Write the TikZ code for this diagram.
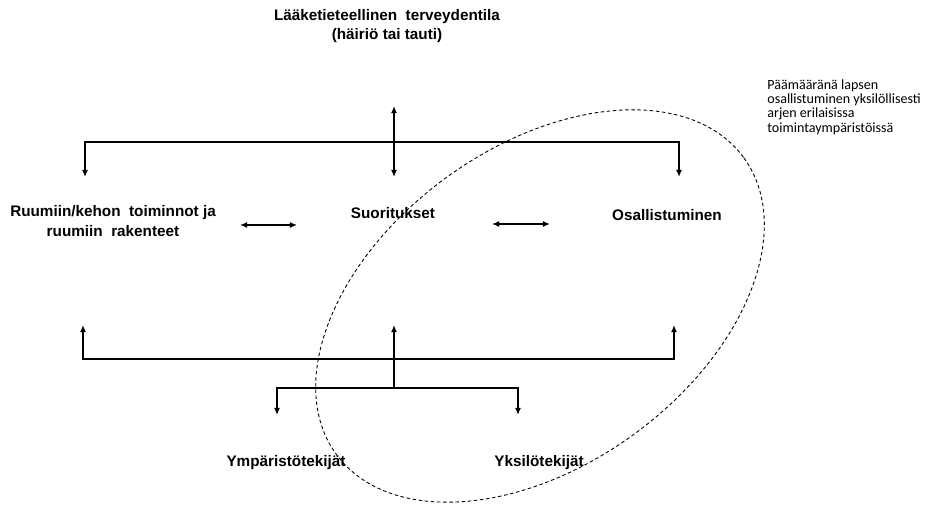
\documentclass[tikz,border=0pt]{standalone}
\usepackage{fontspec}
\setmainfont{Liberation Sans}
\newfontfamily\notefont{Carlito}
\usetikzlibrary{arrows.meta}

\begin{document}
\begin{tikzpicture}[x=0.02cm, y=-0.02cm,
    lbl/.style={font=\bfseries\fontsize{8.7}{11}\selectfont, align=center, inner sep=0pt},
    link/.style={line width=0.9pt},
    >={Latex[length=4pt,width=3.4pt]}]
\useasboundingbox (0,0) rectangle (925,506);

% Nodes
\node (title) [lbl] at (387,26) {Lääketieteellinen\ \ terveydentila\\(häiriö tai tauti)};
\node (body) [lbl] at (113,221) {Ruumiin/kehon\ \ toiminnot ja\\ruumiin\ \ rakenteet};
\node (act) [lbl] at (393,213) {Suoritukset};
\node (part) [lbl] at (667,215) {Osallistuminen};
\node (env) [lbl] at (286,463) {Ympäristötekijät};
\node (pers) [lbl] at (539,463) {Yksilötekijät};
\node (goal) [font=\notefont\fontsize{8}{8.2}\selectfont, align=left, inner sep=0pt, anchor=north west] at (767,79) {Päämääränä lapsen\\osallistuminen yksilöllisesti\\arjen erilaisissa\\toimintaympäristöissä};

% Coordinates
\coordinate (topin) at (394,106);
\coordinate (actin) at (394,177);
\coordinate (bodyin) at (85,177);
\coordinate (partin) at (679,177);
\coordinate (tl) at (85,142);
\coordinate (tr) at (679,142);
\coordinate (bodyout) at (83,325);
\coordinate (actout) at (394,325);
\coordinate (partout) at (674,325);
\coordinate (bl) at (83,359);
\coordinate (br) at (674,359);
\coordinate (mid) at (394,388);
\coordinate (el) at (277,388);
\coordinate (er) at (518,388);
\coordinate (envin) at (277,415);
\coordinate (persin) at (518,415);
\coordinate (ba) at (240,225);
\coordinate (bb) at (297,225);
\coordinate (ab) at (492,224);
\coordinate (ac) at (550,224);

% Arrows
\draw [link,<->] (topin) -- (actin);
\draw [link,<->] (bodyin) -- (tl) -- (tr) -- (partin);
\draw [link,<->] (bodyout) -- (bl) -- (br) -- (partout);
\draw [link,->] (mid) -- (actout);
\draw [link,<->] (envin) -- (el) -- (er) -- (persin);
\draw [link,<->] (ba) -- (bb);
\draw [link,<->] (ab) -- (ac);

% Ellipse
\draw [line width=0.5pt, dash pattern=on 2pt off 1.5pt, rotate around={36:(540,306)}] (540,306) ellipse [x radius=252, y radius=159];

\end{tikzpicture}
\end{document}
